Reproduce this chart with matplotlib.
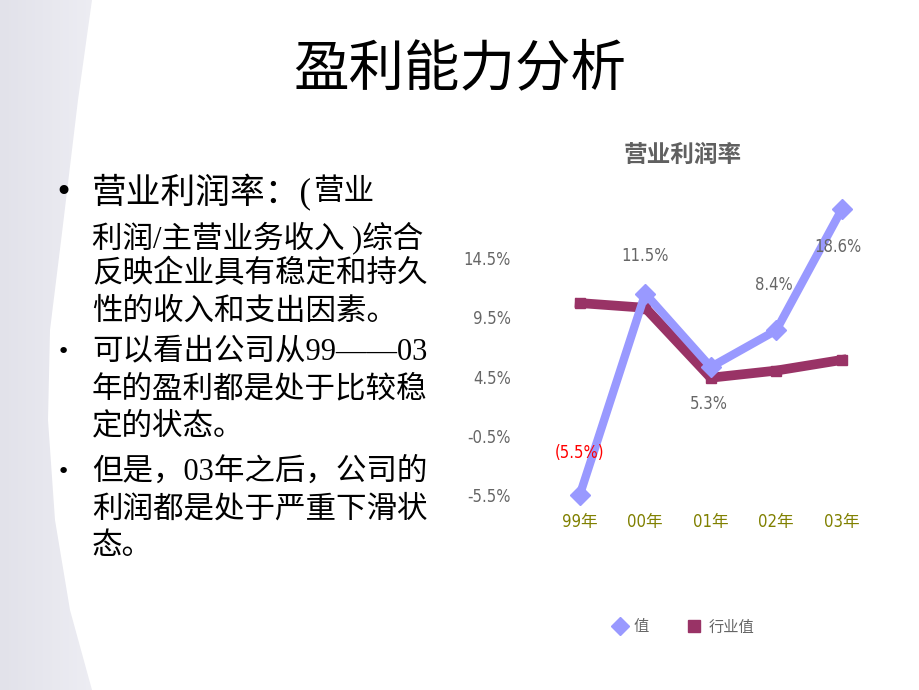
import matplotlib.pyplot as plt
import numpy as np
from matplotlib.lines import Line2D
from matplotlib.patches import Polygon
from matplotlib.colors import LinearSegmentedColormap

W, H = 920, 690

# chart data
anos = ['99年', '00年', '01年', '02年', '03年']
valor = [-5.5, 11.5, 5.3, 8.4, 18.6]
valor_rotulos = ['(5.5%)', '11.5%', '5.3%', '8.4%', '18.6%']
industria = [10.7, 10.3, 4.4, 5.0, 5.9]
yticks = [-5.5, -0.5, 4.5, 9.5, 14.5]
legenda = ['值', '行业值']

# slide text
titulo = '盈利能力分析'
titulo_grafico = '营业利润率'
bullets = [
    ['营业利润率：(', '利润/主营业务收入 )综合', '反映企业具有稳定和持久', '性的收入和支出因素。'],
    ['可以看出公司从99——03', '年的盈利都是处于比较稳', '定的状态。'],
    ['但是，03年之后，公司的', '利润都是处于严重下滑状', '态。'],
]

# layout (pixels from top)
linhas_y = [[193, 238, 275, 312], [352, 390, 427], [472, 510, 547]]
rotulo_offsets = [(0, 42), (0, 38), (-2, -37), (-2, 45), (-4, -38)]

fig = plt.figure(figsize=(W / 100, H / 100), dpi=100)
fig.patch.set_facecolor('white')

def px(x, y):
    return x / W, 1 - y / H

# faixa decorativa da esquerda
bg = fig.add_axes([0, 0, 1, 1], zorder=-1)
bg.set_xlim(0, W)
bg.set_ylim(H, 0)
bg.axis('off')
cmap = LinearSegmentedColormap.from_list('faixa', ['#e2e2ea', '#ededf3'])
im = bg.imshow(np.linspace(0, 1, 100)[None, :], extent=[0, 95, H, 0], cmap=cmap, aspect='auto')
forma = Polygon([(0, 0), (92, 0), (78, 100), (62, 233), (50, 330), (48, 420), (55, 520), (70, 610), (92, 690), (0, 690)],
                closed=True, facecolor='none', edgecolor='none', transform=bg.transData)
bg.add_patch(forma)
im.set_clip_path(forma)

# titulo
fig.text(*px(460, 70), titulo, ha='center', va='center', fontsize=40, family='Noto Sans CJK SC', color='black')

# texto com marcadores
fonte_txt = ['Liberation Serif', 'Noto Sans CJK SC']
for i, linhas in enumerate(bullets):
    fig.text(*px(63, linhas_y[i][0]), '•', ha='center', va='center', fontsize=22 if i == 0 else 16,
             family='DejaVu Sans', color='black')
    for j, linha in enumerate(linhas):
        tam = 25 if (i == 0 and j == 0) else 22
        fig.text(*px(92, linhas_y[i][j]), linha, ha='left', va='center', fontsize=tam, family=fonte_txt)
fig.text(*px(313, linhas_y[0][0]), '营业', ha='left', va='center', fontsize=22, family=fonte_txt)

# grafico
fonte_num = ['DejaVu Sans', 'Noto Sans CJK SC']
ax = fig.add_axes([547 / W, 1 - 505.7 / H, 327.5 / W, 316.4 / H])
ax.set_xlim(-0.5, 4.5)
ax.set_ylim(-6.4, 20.3)
ax.patch.set_alpha(0)
for s in ax.spines.values():
    s.set_visible(False)

x = np.arange(len(anos))
ax.plot(x, industria, color='#993366', lw=7, marker='s', ms=7)
ax.plot(x, valor, color='#9999ff', lw=6, marker='D', ms=10)

for i, rot in enumerate(valor_rotulos):
    ax.annotate(rot, (x[i], valor[i]), xytext=rotulo_offsets[i], textcoords='offset pixels',
                ha='center', va='center', fontsize=12, family=fonte_num, fontstretch='condensed',
                color='red' if valor[i] < 0 else '#666666')

ax.set_xticks(x, anos)
ax.set_yticks(yticks, [f'{v:.1f}%' for v in yticks])
ax.tick_params(axis='both', length=0)
ax.tick_params(axis='y', pad=26, labelsize=12, labelcolor='#666666')
ax.tick_params(axis='x', pad=5, labelsize=12, labelcolor='#808000')
for lbl in ax.get_xticklabels() + ax.get_yticklabels():
    lbl.set_family(fonte_num)
    lbl.set_fontstretch('condensed')

fig.text(*px(683, 155), titulo_grafico, ha='center', va='center', fontsize=17, fontweight='bold',
         family='Noto Sans CJK SC', color='#606060')

handles = [Line2D([], [], ls='none', marker='D', ms=9, color='#9999ff'),
           Line2D([], [], ls='none', marker='s', ms=9, color='#993366')]
fig.legend(handles, legenda, loc='center', bbox_to_anchor=px(683, 627), ncol=2, frameon=False,
           handlelength=1, handletextpad=0.4, columnspacing=2.5, labelcolor='#666666',
           prop={'family': 'Noto Sans CJK SC', 'size': 11})

fig.savefig('out.png', dpi=100)
